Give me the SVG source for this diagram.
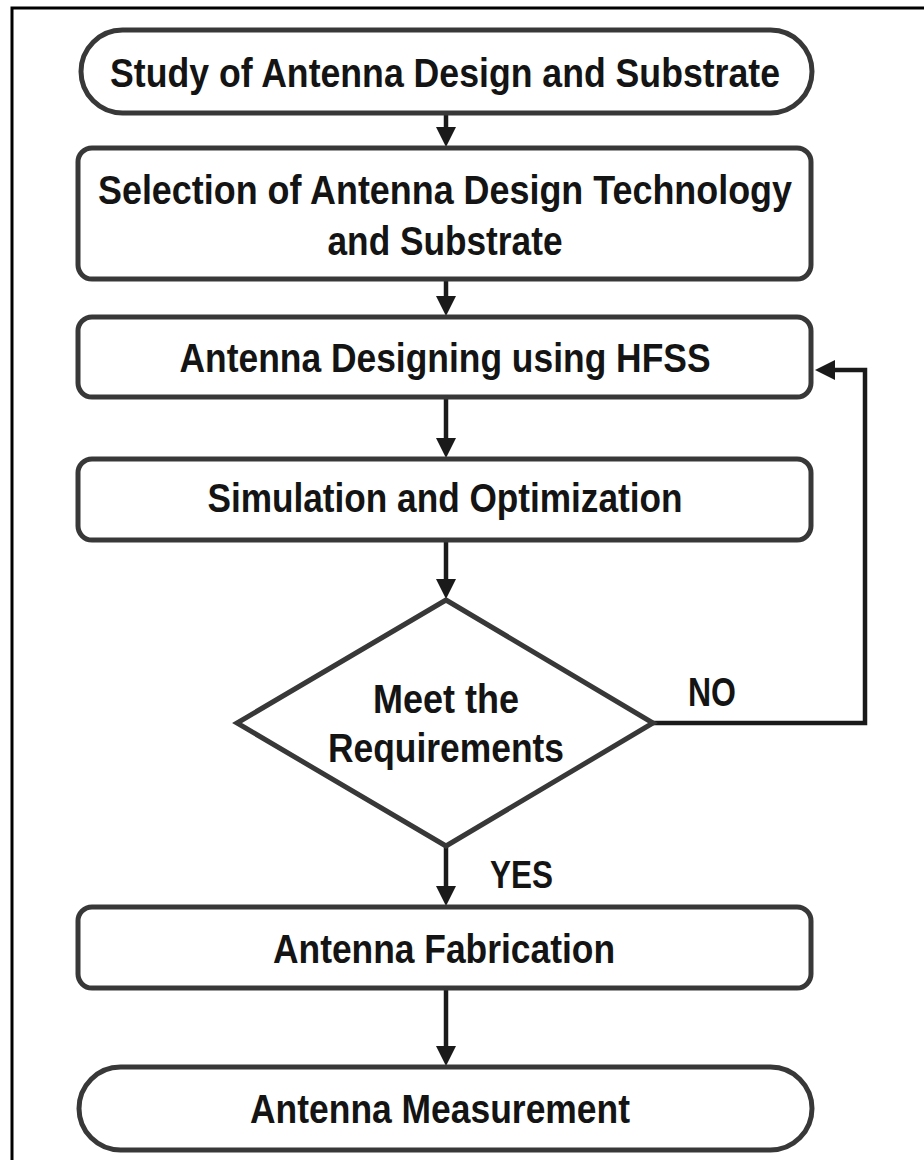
<svg xmlns="http://www.w3.org/2000/svg" width="924" height="1160" viewBox="0 0 924 1160">
<style>
.box{fill:#fff;stroke:#383838;stroke-width:5}
.conn{fill:none;stroke:#1a1a1a;stroke-width:4.5}
.t{font-family:"Liberation Sans",Arial,sans-serif;font-weight:bold;font-size:40px;fill:#141414;text-anchor:middle}
</style>
<defs>
<marker id="ah" viewBox="0 0 20 20" refX="1" refY="10" markerWidth="20" markerHeight="20" markerUnits="userSpaceOnUse" orient="auto">
<path d="M0,0 L20,10 L0,20 z" fill="#1a1a1a"/>
</marker>
</defs>
<rect width="924" height="1160" fill="#fff"/>
<rect x="12" y="8" width="940" height="1180" fill="none" stroke="#000" stroke-width="3"/>
<g id="connectors">
<path class="conn" d="M446,115 V128" marker-end="url(#ah)"/>
<path class="conn" d="M446,281 V297" marker-end="url(#ah)"/>
<path class="conn" d="M446,399 V439" marker-end="url(#ah)"/>
<path class="conn" d="M446,542 V580" marker-end="url(#ah)"/>
<path class="conn" d="M446,846 V887" marker-end="url(#ah)"/>
<path class="conn" d="M446,990 V1047" marker-end="url(#ah)"/>
<path class="conn" d="M653,723 H865 V370 H834" marker-end="url(#ah)"/>
</g>
<g id="study">
<rect class="box" x="81" y="30" width="731" height="83" rx="41.5"/>
<text class="t" x="445" y="87" textLength="670" lengthAdjust="spacingAndGlyphs">Study of Antenna Design and Substrate</text>
</g>
<g id="selection">
<rect class="box" x="78" y="148" width="733" height="131" rx="14"/>
<text class="t" x="445" y="204" textLength="694" lengthAdjust="spacingAndGlyphs">Selection of Antenna Design Technology</text>
<text class="t" x="445" y="255" textLength="235" lengthAdjust="spacingAndGlyphs">and Substrate</text>
</g>
<g id="designing">
<rect class="box" x="78" y="317" width="733" height="80" rx="14"/>
<text class="t" x="445" y="372" textLength="531" lengthAdjust="spacingAndGlyphs">Antenna Designing using HFSS</text>
</g>
<g id="simulation">
<rect class="box" x="78" y="459" width="733" height="81" rx="14"/>
<text class="t" x="445" y="512" textLength="475" lengthAdjust="spacingAndGlyphs">Simulation and Optimization</text>
</g>
<g id="decision">
<polygon class="box" points="446,600 653,723 446,846 237,723"/>
<text class="t" x="446" y="713" textLength="146" lengthAdjust="spacingAndGlyphs">Meet the</text>
<text class="t" x="446" y="762" textLength="236" lengthAdjust="spacingAndGlyphs">Requirements</text>
</g>
<g id="labels">
<text class="t" x="712" y="706" textLength="48" lengthAdjust="spacingAndGlyphs">NO</text>
<text class="t" x="521.5" y="888" textLength="63" lengthAdjust="spacingAndGlyphs" style="font-size:38px">YES</text>
</g>
<g id="fabrication">
<rect class="box" x="78" y="907" width="733" height="81" rx="14"/>
<text class="t" x="444" y="963" textLength="342" lengthAdjust="spacingAndGlyphs">Antenna Fabrication</text>
</g>
<g id="measurement">
<rect class="box" x="79" y="1067" width="733" height="83" rx="41.5"/>
<text class="t" x="440" y="1123" textLength="380" lengthAdjust="spacingAndGlyphs">Antenna Measurement</text>
</g>
</svg>
